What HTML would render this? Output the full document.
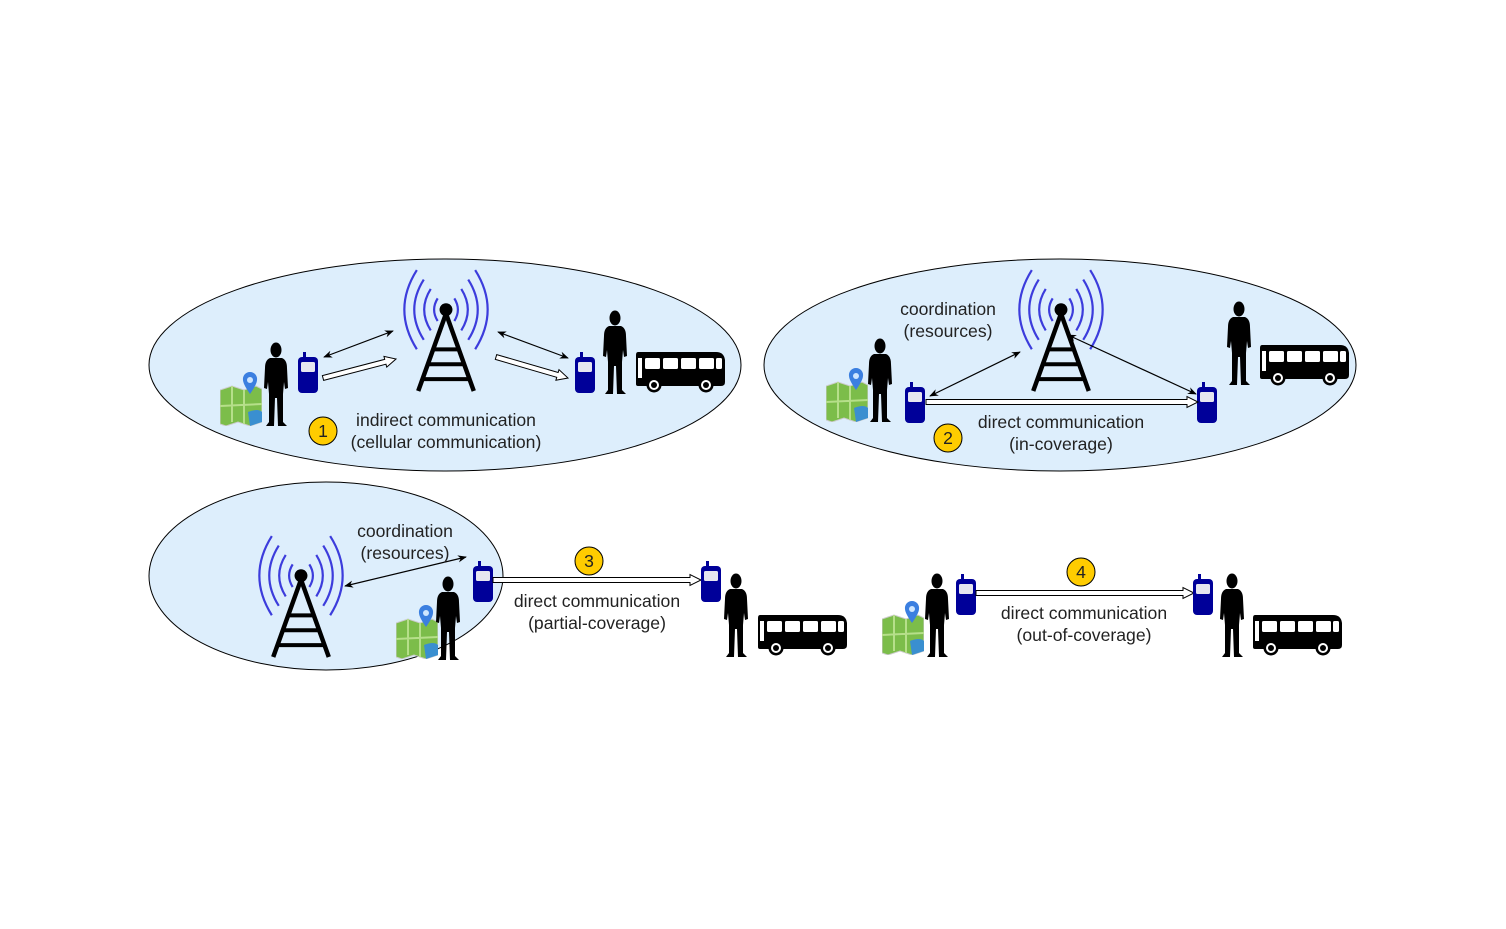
<!DOCTYPE html>
<html><head><meta charset="utf-8"><style>
html,body{margin:0;padding:0;background:#fff;}
svg{display:block;font-family:"Liberation Sans",sans-serif;}
text{font-size:17.6px;fill:#222;text-anchor:middle;}
</style></head><body>
<svg id="s" width="1506" height="929" viewBox="0 0 1506 929">
<defs>
<marker id="ah" viewBox="0 0 10 10" refX="9" refY="5" markerWidth="9" markerHeight="9" orient="auto-start-reverse" markerUnits="userSpaceOnUse"><path d="M0,1 L10,5 L0,9 L3,5 Z" fill="#000"/></marker>
<symbol id="person" viewBox="0 0 30 85"><ellipse cx="15" cy="8" rx="5.5" ry="7.5" fill="#000"/><path d="M9,16 L21,16 Q26,18 26,26 L27,46 L24,47 L23,40 L22,52 L22,80 L26,84 L17,84 L16,56 L14,56 L13,84 L5,84 L8,80 L8,52 L7,40 L6,47 L3,46 L4,26 Q4,18 9,16 Z" fill="#000"/></symbol>
<symbol id="phone" viewBox="0 0 22 42"><rect x="6" y="0" width="3" height="7" fill="#000099"/><rect x="1" y="5" width="20" height="36" rx="4" fill="#000099"/><rect x="4" y="10" width="14" height="10" rx="1.5" fill="#e6e6f0"/></symbol>
<symbol id="bus" viewBox="0 0 90 42"><path d="M2,0 L80,0 Q88,0 89,8 L89,30 Q89,34 85,34 L2,34 Q0,34 0,32 L0,3 Q0,0 2,0 Z" fill="#000"/><rect x="9" y="6" width="15" height="11" rx="1.5" fill="#fff"/><rect x="27" y="6" width="15" height="11" rx="1.5" fill="#fff"/><rect x="45" y="6" width="15" height="11" rx="1.5" fill="#fff"/><rect x="63" y="6" width="15" height="11" rx="1.5" fill="#fff"/><rect x="80" y="6" width="6" height="11" rx="1.5" fill="#fff"/><rect x="2" y="6" width="4" height="20" fill="#fff"/><circle cx="18" cy="33" r="7.5" fill="#000"/><circle cx="18" cy="33" r="5" fill="#fff"/><circle cx="18" cy="33" r="3" fill="#000"/><circle cx="70" cy="33" r="7.5" fill="#000"/><circle cx="70" cy="33" r="5" fill="#fff"/><circle cx="70" cy="33" r="3" fill="#000"/></symbol>
<symbol id="map" viewBox="0 0 42 54"><path d="M0,18 L12,14 L24,18 L36,14 L42,17 L42,50 L30,54 L18,50 L6,54 L0,52 Z" fill="#7cbd4a" stroke="#ccc" stroke-width="1"/><path d="M12,14 L12,50 M24,18 L24,52 M0,34 L42,32" stroke="#b6df8a" stroke-width="2"/><path d="M28,40 Q38,36 42,40 L42,50 L30,54 Z" fill="#3a8fd0"/><path d="M30,0 A7,7 0 0 1 37,8 Q37,12 30,22 Q23,12 23,8 A7,7 0 0 1 30,0 Z" fill="#3b7fe0"/><circle cx="30" cy="8" r="3" fill="#cfe6ff"/></symbol>
<symbol id="tower" viewBox="0 0 86 125" overflow="visible"><g id="waves" fill="none" stroke="#3c3cdc" stroke-width="2.2"></g><circle cx="43" cy="40" r="6.5" fill="#000"/><path d="M43,44 L15,122 M43,44 L71,122" stroke="#000" stroke-width="4.5"/><path d="M30,80 L56,80 M25,95 L61,95 M20,110 L66,110" stroke="#000" stroke-width="4"/></symbol>
</defs>
<g id="layer"></g>
</svg>
<script>
const NS='http://www.w3.org/2000/svg';
const svg=document.getElementById('s');
const layer=document.getElementById('layer');
const waves=document.getElementById('waves');
for(let i=0;i<4;i++){const a=12+10*i,b=a*0.95,cx=43,cy=40;
 for(const sg of [-1,1]){const p=document.createElementNS(NS,'path');
 p.setAttribute('d',`M${cx+sg*a*0.7},${cy-b} Q${cx+sg*a*1.3},${cy} ${cx+sg*a*0.7},${cy+b}`);waves.appendChild(p);}}
function mk(tag,attrs,parent){const e=document.createElementNS(NS,tag);for(const k in attrs)e.setAttribute(k,attrs[k]);(parent||layer).appendChild(e);return e;}
function ell(cx,cy,rx,ry,n){const e=mk('ellipse',{cx,cy,rx,ry,fill:'#ddeefc',stroke:'#000','stroke-width':1});

}
function icon(id,x,y,w,h,n){const e=mk('use',{href:'#'+id,x,y,width:w,height:h});

}
function txt(x,y,s,n){const e=mk('text',{x,y});e.textContent=s;

}
function dbl(x1,y1,x2,y2,n){const e=mk('line',{x1,y1,x2,y2,stroke:'#000','stroke-width':1.2,'marker-start':'url(#ah)','marker-end':'url(#ah)'});

}
function hollow(x1,y1,x2,y2,n){const g=mk('g',{});


const dx=x2-x1,dy=y2-y1,L=Math.hypot(dx,dy),ux=dx/L,uy=dy/L,px=-uy,py=ux,hl=11,hw=5.5;
const bx=x2-ux*hl,by=y2-uy*hl;
mk('path',{d:`M${x1+px*2.5},${y1+py*2.5} L${bx+px*2.5},${by+py*2.5} L${bx+px*hw},${by+py*hw} L${x2},${y2} L${bx-px*hw},${by-py*hw} L${bx-px*2.5},${by-py*2.5} L${x1-px*2.5},${y1-py*2.5} Z`,fill:'#fff',stroke:'#000','stroke-width':1},g);}
function badge(x,y,s,n){const g=mk('g',{});


mk('circle',{cx:x,cy:y,r:14,fill:'#ffcc00',stroke:'#000','stroke-width':1},g);
const t=mk('text',{x,y:y+6},g);t.textContent=s;}

ell(445,365,296,106,'coverage-area-1');
ell(1060,365,296,106,'coverage-area-2');
ell(326,576,177,94,'coverage-area-3');

icon('map',220,372,42,54,'map-icon-1');
icon('person',261,342,30,85,'user-1a');
icon('phone',297,352,22,42,'phone-1a');
icon('tower',403,270,86,124,'base-station-1');
icon('phone',574,352,22,42,'phone-1b');
icon('person',600,310,30,85,'user-1b');
icon('bus',636,352,90,42,'bus-1');
dbl(324,357,393,331,'uplink-arrow-1');
hollow(323,378,396,359,'data-arrow-1a');
dbl(498,332,568,358,'downlink-arrow-1');
hollow(496,357,568,378,'data-arrow-1b');
badge(323,431,'1','badge-1');
txt(446,426,'indirect communication','label-1-line1');
txt(446,448,'(cellular communication)','label-1-line2');

icon('map',826,368,42,54,'map-icon-2');
icon('person',865,338,30,85,'user-2a');
icon('phone',904,382,22,42,'phone-2a');
icon('tower',1018,270,86,124,'base-station-2');
icon('person',1224,301,30,85,'user-2b');
icon('bus',1260,345,90,42,'bus-2');
icon('phone',1196,382,22,42,'phone-2b');
dbl(930,396,1020,352,'coordination-arrow-2a');
dbl(1068,335,1196,394,'coordination-arrow-2b');
hollow(926,402,1198,402,'direct-link-2');
txt(948,315,'coordination','coordination-label-2a');
txt(948,337,'(resources)','coordination-label-2b');
badge(948,438,'2','badge-2');
txt(1061,428,'direct communication','label-2-line1');
txt(1061,450,'(in-coverage)','label-2-line2');

icon('tower',258,536,86,124,'base-station-3');
icon('map',396,605,42,54,'map-icon-3');
icon('person',433,576,30,85,'user-3a');
icon('phone',472,561,22,42,'phone-3a');
dbl(345,586,466,557,'coordination-arrow-3');
txt(405,537,'coordination','coordination-label-3a');
txt(405,559,'(resources)','coordination-label-3b');
hollow(493,580,701,580,'direct-link-3');
badge(589,561,'3','badge-3');
txt(597,607,'direct communication','label-3-line1');
txt(597,629,'(partial-coverage)','label-3-line2');
icon('phone',700,561,22,42,'phone-3b');
icon('person',721,573,30,85,'user-3b');
icon('bus',758,615,90,42,'bus-3');

icon('map',882,601,42,54,'map-icon-4');
icon('person',922,573,30,85,'user-4a');
icon('phone',955,574,22,42,'phone-4a');
hollow(976,593,1194,593,'direct-link-4');
badge(1081,572,'4','badge-4');
txt(1084,619,'direct communication','label-4-line1');
txt(1084,641,'(out-of-coverage)','label-4-line2');
icon('phone',1192,574,22,42,'phone-4b');
icon('person',1217,573,30,85,'user-4b');
icon('bus',1253,615,90,42,'bus-4');
</script>
</body></html>
